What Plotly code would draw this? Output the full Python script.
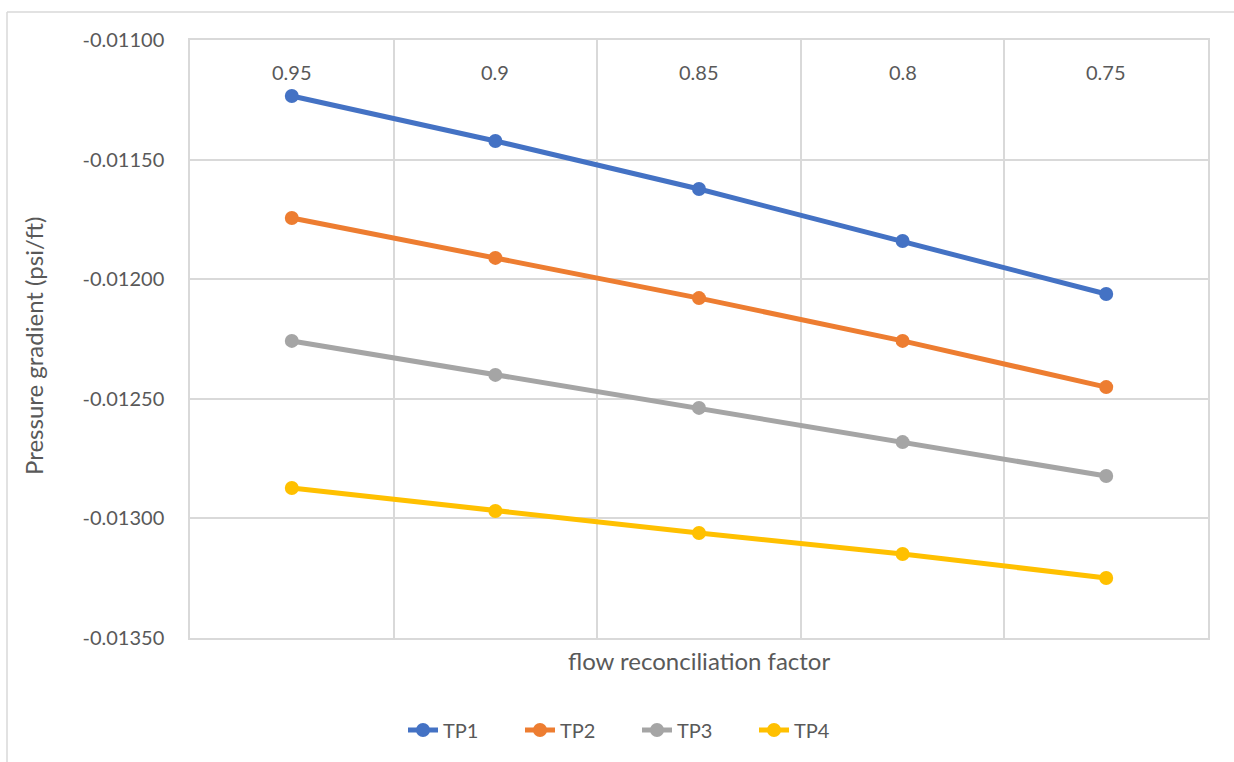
import plotly.graph_objects as go

# Flow reconciliation factor categories (left to right)
factors = ["0.95", "0.9", "0.85", "0.8", "0.75"]

# Pressure gradient (psi/ft) per test point
tp1 = [-0.011234, -0.011422, -0.011623, -0.011840, -0.012062]
tp2 = [-0.011744, -0.011911, -0.012079, -0.012258, -0.012451]
tp3 = [-0.012258, -0.012400, -0.012538, -0.012681, -0.012823]
tp4 = [-0.012873, -0.012969, -0.013061, -0.013149, -0.013249]

series_names = ["TP1", "TP2", "TP3", "TP4"]
series_values = [tp1, tp2, tp3, tp4]
series_colors = ["#4472C4", "#ED7D31", "#A5A5A5", "#FFC000"]

y_ticks = [-0.0110, -0.0115, -0.0120, -0.0125, -0.0130, -0.0135]
y_ticktext = [f"{v:.5f}" for v in y_ticks]  # keeps a plain hyphen minus

FONT = "Lato, 'Open Sans', sans-serif"
TEXT = "#595959"
GRID = "#D9D9D9"
FS_TICK = 20
FS_TITLE = 24

positions = list(range(len(factors)))

fig = go.Figure()
for name, vals, col in zip(series_names, series_values, series_colors):
    fig.add_trace(go.Scatter(
        x=positions, y=vals, name=name, mode="lines+markers",
        line=dict(color=col, width=5),
        marker=dict(color=col, size=14),
    ))

W, H = 1234, 762
ml, mr, mt, mb = 190, 26, 40, 124
pw, ph = W - ml - mr, H - mt - mb


def py(pixel_y):
    return (mt + ph - pixel_y) / ph


def px(pixel_x):
    return (pixel_x - ml) / pw


fig.update_layout(
    width=W, height=H,
    margin=dict(l=ml, r=mr, t=mt, b=mb, pad=0),
    paper_bgcolor="white", plot_bgcolor="white",
    font=dict(family=FONT, color=TEXT, size=FS_TICK),
    showlegend=True,
    legend=dict(orientation="h", x=px(637), xanchor="center",
                y=py(730), yanchor="middle",
                font=dict(size=FS_TICK, color=TEXT, family=FONT),
                entrywidth=72, entrywidthmode="pixels",
                tracegroupgap=0),
    xaxis=dict(
        range=[-0.5, len(factors) - 0.5],
        tickmode="array", tickvals=positions,
        showticklabels=False, ticks="",
        showgrid=False, zeroline=False,
        showline=True, linecolor=GRID, linewidth=1.5, mirror=True,
        minor=dict(tick0=0.5, dtick=1, showgrid=True, gridcolor=GRID,
                   gridwidth=1.5, ticks=""),
    ),
    yaxis=dict(
        range=[y_ticks[-1], y_ticks[0]],
        tickmode="array", tickvals=y_ticks, ticktext=y_ticktext,
        tickfont=dict(size=FS_TICK, color=TEXT), ticks="",
        showgrid=True, gridcolor=GRID, gridwidth=1.5, zeroline=False,
        showline=True, linecolor=GRID, linewidth=1.5, mirror=True,
        ticklabelstandoff=20,
    ),
)

# Y axis title, rotated, left of the tick labels
fig.add_annotation(
    text="Pressure gradient (psi/ft)", xref="paper", yref="paper",
    x=px(33), y=py(346), xanchor="center", yanchor="middle", textangle=-90,
    showarrow=False, font=dict(size=FS_TITLE, color=TEXT, family=FONT),
)

# Category labels along the top of the plot area
for pos, lab in zip(positions, factors):
    fig.add_annotation(
        text=lab, x=pos, xref="x", y=py(72), yref="paper",
        xanchor="center", yanchor="middle", showarrow=False,
        font=dict(size=FS_TICK, color=TEXT, family=FONT),
    )

# X axis title below the plot area
fig.add_annotation(
    text="flow reconciliation factor", xref="paper", yref="paper",
    x=0.5, y=py(660), xanchor="center", yanchor="middle",
    showarrow=False, font=dict(size=FS_TITLE, color=TEXT, family=FONT),
)

# Chart area border (left and top edges)
fig.add_shape(type="line", xref="paper", yref="paper",
              x0=px(7), x1=px(7), y0=py(12), y1=py(770),
              line=dict(color=GRID, width=1.5))
fig.add_shape(type="line", xref="paper", yref="paper",
              x0=px(7), x1=px(1240), y0=py(12), y1=py(12),
              line=dict(color=GRID, width=1.5))

fig.write_html("out.html")
